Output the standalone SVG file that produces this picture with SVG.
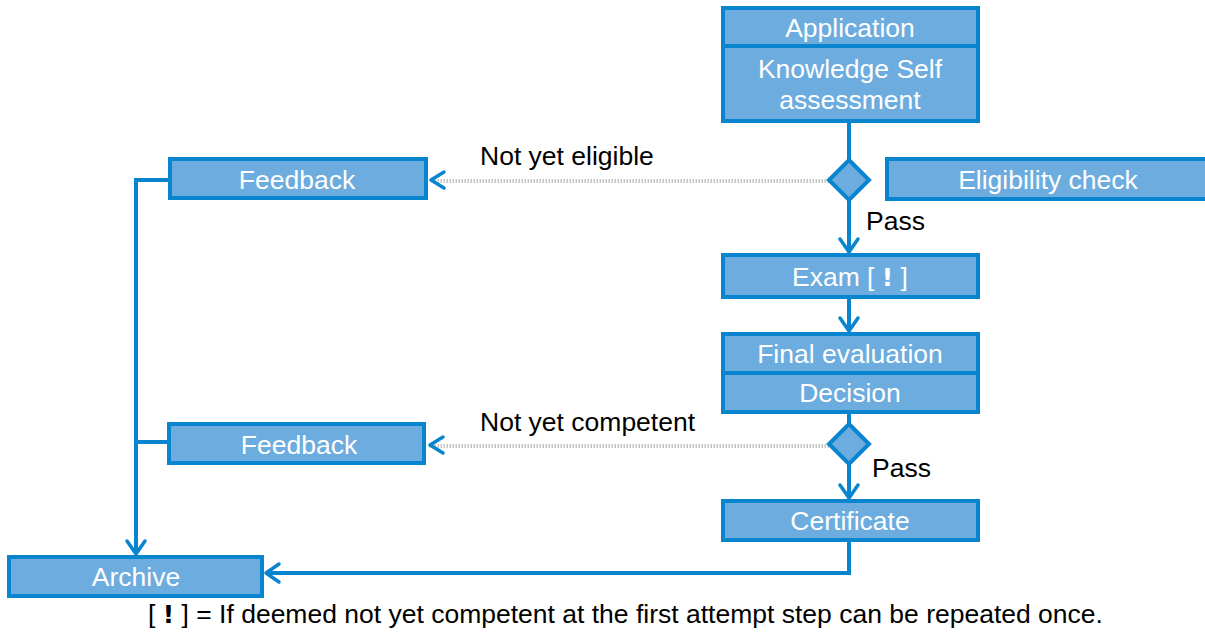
<svg xmlns="http://www.w3.org/2000/svg" width="1205" height="632" viewBox="0 0 1205 632">
<style>
.box{fill:#6cacde;stroke:#0984ce;stroke-width:4}
.nt{font-family:"Liberation Sans",Arial,sans-serif;font-size:26.5px;fill:#ffffff;text-anchor:middle}
.lb{font-family:"Liberation Sans",Arial,sans-serif;font-size:26.5px;fill:#000000}
.ln{fill:none;stroke:#0984ce;stroke-width:4}
.dot{fill:none;stroke:#c4c4c4;stroke-width:4;stroke-dasharray:1.5 1.5}
.ah{fill:none;stroke:#0984ce;stroke-width:3.5;stroke-linecap:round;stroke-linejoin:round}
.dia{fill:#6cacde;stroke:#0984ce;stroke-width:4}
.ex{font-family:"DejaVu Sans",sans-serif;font-weight:900}
</style>
<rect width="1205" height="632" fill="#ffffff"/>
<g id="connectors">
<line class="ln" x1="849" y1="121" x2="849" y2="160"/>
<line class="ln" x1="849" y1="199" x2="849" y2="252"/>
<polyline class="ah" points="840,239 849,252 858,239"/>
<line class="dot" x1="829" y1="181" x2="430" y2="181"/>
<polyline class="ah" points="444,172 431,180 444,188"/>
<line class="ln" x1="849" y1="298" x2="849" y2="331"/>
<polyline class="ah" points="840,318 849,331 858,318"/>
<line class="ln" x1="849" y1="413" x2="849" y2="424"/>
<line class="ln" x1="849" y1="463" x2="849" y2="498"/>
<polyline class="ah" points="840,485 849,498 858,485"/>
<line class="dot" x1="829" y1="446" x2="429" y2="446"/>
<polyline class="ah" points="443,437 430,445 443,453"/>
<polyline class="ln" points="849,541 849,573 266,573"/>
<polyline class="ah" points="279,564 266,573 279,582"/>
<polyline class="ln" points="168,180 136,180 136,554"/>
<line class="ln" x1="136" y1="442" x2="168" y2="442"/>
<polyline class="ah" points="127,541 136,554 145,541"/>
</g>
<g id="application">
<rect class="box" x="723" y="8" width="255" height="38"/>
<text class="nt" x="850" y="37">Application</text>
</g>
<g id="selfassessment">
<rect class="box" x="723" y="46" width="255" height="75"/>
<text class="nt" x="850" y="78">Knowledge Self</text>
<text class="nt" x="850" y="109">assessment</text>
</g>
<g id="diamond1">
<polygon class="dia" points="849,160 869,180 849,200 829,180"/>
</g>
<g id="eligibility">
<rect class="box" x="887" y="159" width="320" height="40"/>
<text class="nt" x="1048" y="189">Eligibility check</text>
</g>
<g id="feedback1">
<rect class="box" x="170" y="159" width="256" height="39"/>
<text class="nt" x="297" y="189">Feedback</text>
</g>
<g id="exam">
<rect class="box" x="723" y="255" width="255" height="42"/>
<text class="nt" x="850" y="286">Exam [ <tspan class="ex" font-size="25">!</tspan> ]</text>
</g>
<g id="finaleval">
<rect class="box" x="723" y="334" width="255" height="39"/>
<text class="nt" x="850" y="363">Final evaluation</text>
</g>
<g id="decision">
<rect class="box" x="723" y="373" width="255" height="39"/>
<text class="nt" x="850" y="402">Decision</text>
</g>
<g id="diamond2">
<polygon class="dia" points="849,424 869,444 849,464 829,444"/>
</g>
<g id="feedback2">
<rect class="box" x="169" y="424" width="255" height="39"/>
<text class="nt" x="299" y="454">Feedback</text>
</g>
<g id="certificate">
<rect class="box" x="723" y="501" width="255" height="39"/>
<text class="nt" x="850" y="530">Certificate</text>
</g>
<g id="archive">
<rect class="box" x="9" y="557" width="253" height="39"/>
<text class="nt" x="136" y="586">Archive</text>
</g>
<g id="labels">
<text class="lb" x="480" y="165">Not yet eligible</text>
<text class="lb" x="866" y="230">Pass</text>
<text class="lb" x="480" y="431">Not yet competent</text>
<text class="lb" x="872" y="477">Pass</text>
<text class="lb" x="148" y="623">[ <tspan class="ex" font-size="25">!</tspan> ] = If deemed not yet competent at the first attempt step can be repeated once.</text>
</g>
</svg>
